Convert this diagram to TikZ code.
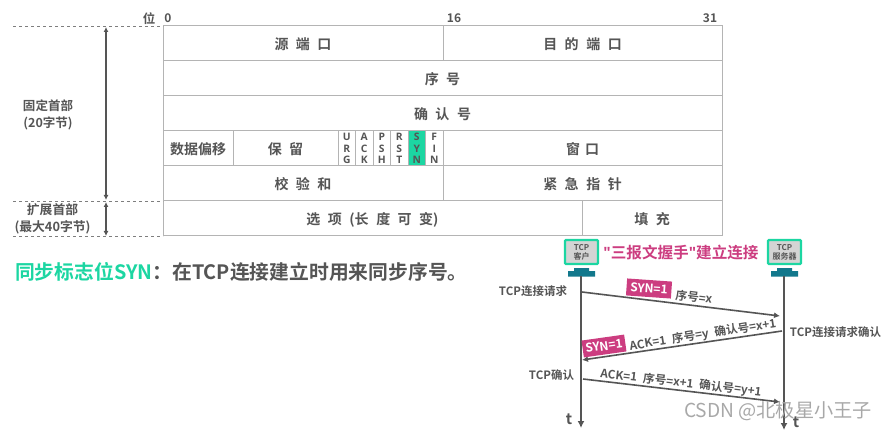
\documentclass[tikz,border=0pt]{standalone}
\usepackage{fontspec}
\setmainfont{Noto Sans CJK SC}[BoldFont={Noto Sans CJK SC Bold}]
\newfontfamily\uifont{Open Sans}[BoldFont={Open Sans Bold}]
\newfontfamily\markfont{Noto Sans CJK SC}[BoldFont={Noto Sans CJK SC Bold}]
\usetikzlibrary{arrows.meta}
\definecolor{gridgray}{HTML}{B4B4B4}
\definecolor{inkgray}{HTML}{555555}
\definecolor{syngreen}{HTML}{1CD6A2}
\definecolor{synpink}{HTML}{CC3D80}
\definecolor{teal}{HTML}{12788C}
\definecolor{devgray}{HTML}{D4D4D4}
\definecolor{wmgray}{HTML}{A8A8A8}
\newcommand{\G}{\hspace{7.5pt}}
\tikzset{
  x=1pt,y=-1pt,
  basecell/.style={draw=gridgray,line width=1pt,inner sep=0pt,outer sep=0pt,text=inkgray,anchor=north west},
  cell/.style={basecell,font=\bfseries\fontsize{14}{14}\selectfont,text height=13.5pt,text depth=.5pt},
  flagcell/.style={basecell,minimum width=17.5pt,minimum height=35pt,font=\uifont\bfseries\fontsize{10.3}{11.6}\selectfont,align=center},
  lbl/.style={text=inkgray,font=\bfseries\fontsize{12.5}{17}\selectfont,inner sep=0pt,align=center},
  small/.style={text=inkgray,font=\bfseries\fontsize{11.5}{13}\selectfont,inner sep=0pt},
  seqtxt/.style={text=inkgray,font=\bfseries\fontsize{11.7}{13}\selectfont,inner sep=0pt},
  dashline/.style={draw=gridgray!70!black,dashed,line width=.8pt},
  span/.style={draw=inkgray,line width=1.6pt,{Latex[length=5pt,width=5pt]}-{Latex[length=5pt,width=5pt]}},
  msg/.style={draw=inkgray,line width=1.6pt,-{Latex[length=6pt,width=6pt]}},
  life/.style={draw=inkgray,line width=1.6pt,-{Latex[length=7pt,width=7pt]}},
  dev/.style={draw=syngreen,line width=2.2pt,fill=devgray,rounded corners=1pt,minimum width=33pt,minimum height=24pt,inner sep=0pt,text=inkgray,font=\bfseries\fontsize{8}{9}\selectfont,align=center},
  pinkbox/.style={fill=synpink,text=white,font=\bfseries\fontsize{12}{13}\selectfont,inner sep=0pt,minimum height=17pt},
}
\begin{document}
\begin{tikzpicture}
\useasboundingbox (0,0) rectangle (888,430);
% bit scale
\node[small,font=\bfseries\fontsize{12.5}{13}\selectfont] (wei) at (149,19) {位};
\node[small,font=\bfseries\fontsize{12}{13}\selectfont] (b0) at (168,18.5) {0};
\node[small,font=\bfseries\fontsize{12}{13}\selectfont] (b16) at (454,18.5) {16};
\node[small,font=\bfseries\fontsize{12}{13}\selectfont] (b31) at (710,18.5) {31};
% table
\node[cell,minimum width=280pt,minimum height=35pt] (src) at (163,26) {源\G 端\G 口};
\node[cell,minimum width=279pt,minimum height=35pt] (dst) at (443,26) {目\G 的\G 端\G 口};
\node[cell,minimum width=559pt,minimum height=35pt] (seq) at (163,61) {序\G 号};
\node[cell,minimum width=559pt,minimum height=35pt] (ack) at (163,96) {确\G 认\G 号};
\node[cell,minimum width=70pt,minimum height=35pt] (off) at (163,131) {数据偏移};
\node[cell,minimum width=105pt,minimum height=35pt] (res) at (233,131) {保\G 留};
\node[flagcell] (urg) at (338,131) {U\\R\\G};
\node[flagcell] (fack) at (355.5,131) {A\\C\\K};
\node[flagcell] (psh) at (373,131) {P\\S\\H};
\node[flagcell] (rst) at (390.5,131) {R\\S\\T};
\node[flagcell,fill=syngreen] (syn) at (408,131) {S\\Y\\N};
\node[flagcell] (fin) at (425.5,131) {F\\I\\N};
\node[cell,minimum width=279pt,minimum height=35pt] (win) at (443,131) {窗\hspace{5pt}口};
\node[cell,minimum width=280pt,minimum height=35pt] (chk) at (163,166) {校\G 验\G 和};
\node[cell,minimum width=279pt,minimum height=35pt] (urgp) at (443,166) {紧\G 急\G 指\G 针};
\node[cell,minimum width=419pt,minimum height=35pt] (opt) at (163,201) {选\G 项\G (长\G 度\G 可\G 变)};
\node[cell,minimum width=140pt,minimum height=35pt] (pad) at (582,201) {填\G 充};
% left brackets
\coordinate (d1) at (13,26);
\coordinate (d2) at (13,201);
\coordinate (d3) at (13,236);
\draw[dashline] (d1) -- (src.north west);
\draw[dashline] (d2) -- (opt.north west);
\draw[dashline] (d3) -- (opt.south west);
\coordinate (s1) at (106,27);
\coordinate (s2) at (106,200);
\coordinate (s3) at (106,202);
\coordinate (s4) at (106,236);
\draw[span] (s1) -- (s2);
\draw[span] (s3) -- (s4);
\node[lbl] (fixed) at (48,114.5) {固定首部\\(20字节)};
\node[lbl,font=\bfseries\fontsize{12.8}{17}\selectfont] (ext) at (52.5,219) {扩展首部\\(最大40字节)};
% headline
\node[anchor=west,inner sep=0pt,font=\bfseries\fontsize{19.8}{22}\selectfont] (head) at (15,272) {\textcolor{syngreen}{同步标志位SYN}\textcolor{inkgray}{：在TCP连接建立时用来同步序号。}};
% sequence diagram
\node[dev] (client) at (581.5,252) {TCP\\客户};
\node[dev] (server) at (784.5,252) {TCP\\服务器};
\node[text=synpink,font=\bfseries\fontsize{15.6}{17}\selectfont,inner sep=0pt] (title) at (681,253) {{\uifont\bfseries"}三报文握手{\uifont\bfseries"}建立连接};
\fill[teal] (568,271) rectangle (595,276.5) (574,268) rectangle (589,271);
\fill[teal] (771,271) rectangle (798,276.5) (777,268) rectangle (792,271);
\coordinate (c0) at (581,276);
\coordinate (c1) at (581,428);
\coordinate (v0) at (784,276);
\coordinate (v1) at (784,430);
\draw[life] (c0) -- (c1);
\draw[life] (v0) -- (v1);
\coordinate (m1a) at (582,292);
\coordinate (m1b) at (780,316);
\coordinate (m2a) at (782,331);
\coordinate (m2b) at (582,360);
\coordinate (m3a) at (583,379);
\coordinate (m3b) at (780,402);
\draw[msg] (m1a) -- (m1b);
\draw[msg] (m2a) -- (m2b);
\draw[msg] (m3a) -- (m3b);
\node[small] (l1) at (533,291) {TCP连接请求};
\node[small] (l2) at (835.5,332) {TCP连接请求确认};
\node[small] (l3) at (551.5,375) {TCP确认};
\node[small,font=\bfseries\fontsize{15}{16}\selectfont] (t1) at (569,419) {t};
\node[small,font=\bfseries\fontsize{15}{16}\selectfont] (t2) at (796,422) {t};
\node[pinkbox,rotate=-4,minimum width=45pt] (syn1) at (649,288.5) {SYN=1};
\node[seqtxt,rotate=-7] (m1t) at (694,297) {序号=x};
\node[pinkbox,rotate=8,minimum width=43pt] (syn2) at (604,346) {SYN=1};
\node[seqtxt,rotate=9] (m2t) at (703,335) {ACK=1\hspace{6pt}序号=y\hspace{6pt}确认号=x+1};
\node[seqtxt,rotate=-6.5] (m3t) at (681,383) {ACK=1\hspace{6pt}序号=x+1\hspace{6pt}确认号=y+1};
% watermark
\node[text=wmgray,font=\markfont\fontsize{19.2}{21}\selectfont,inner sep=0pt] (wm) at (778,411) {CSDN @北极星小王子};
\end{tikzpicture}
\end{document}
